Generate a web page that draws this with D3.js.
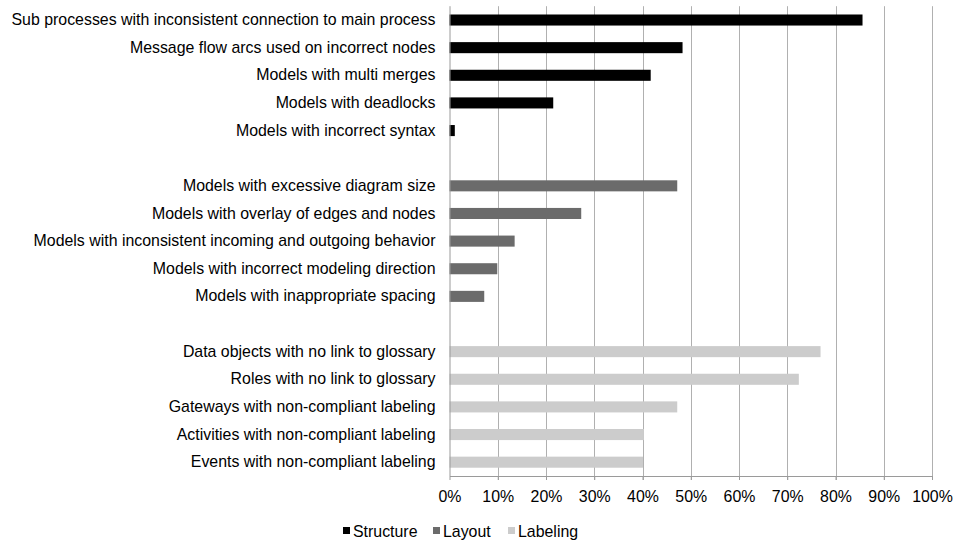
<!DOCTYPE html>
<html>
<head>
<meta charset="utf-8">
<script src="https://cdn.jsdelivr.net/npm/d3@7"></script>
<style>
  html, body { margin: 0; padding: 0; background: #fff; }
  svg { display: block; }
  svg text { font-family: "Liberation Sans", Arial, Helvetica, sans-serif !important; }
</style>
</head>
<body>
<svg id="chart" width="953" height="540"></svg>
<script>
const series = ["Structure", "Layout", "Labeling"];
const seriesColors = ["#000000", "#6b6b6b", "#cccccc"];

const structureCategories = [
  "Sub processes with inconsistent connection to main process",
  "Message flow arcs used on incorrect nodes",
  "Models with multi merges",
  "Models with deadlocks",
  "Models with incorrect syntax"
];
const structureValues = [0.856, 0.483, 0.417, 0.215, 0.011];

const layoutCategories = [
  "Models with excessive diagram size",
  "Models with overlay of edges and nodes",
  "Models with inconsistent incoming and outgoing behavior",
  "Models with incorrect modeling direction",
  "Models with inappropriate spacing"
];
const layoutValues = [0.472, 0.273, 0.135, 0.099, 0.072];

const labelingCategories = [
  "Data objects with no link to glossary",
  "Roles with no link to glossary",
  "Gateways with non-compliant labeling",
  "Activities with non-compliant labeling",
  "Events with non-compliant labeling"
];
const labelingValues = [0.769, 0.724, 0.472, 0.403, 0.401];

const xTicks = [0, 0.1, 0.2, 0.3, 0.4, 0.5, 0.6, 0.7, 0.8, 0.9, 1.0];

(function () {
const FS = 15.9;
// Build rows (with blank spacer rows between groups)
const groups = [
  { cats: structureCategories, vals: structureValues, s: 0 },
  { cats: layoutCategories, vals: layoutValues, s: 1 },
  { cats: labelingCategories, vals: labelingValues, s: 2 }
];
const rows = [];
groups.forEach((g, gi) => {
  g.cats.forEach((c, i) => rows.push({ key: c, label: c, value: g.vals[i], s: g.s }));
  if (gi < groups.length - 1) rows.push({ key: "__gap" + gi, label: "", value: null, s: null });
});

const svg = d3.select("#chart");
const mLeft = 449.5, mRight = 932, mTop = 6.2, mBottom = 476;

const x = d3.scaleLinear().domain([0, 1]).range([mLeft, mRight]);
const y = d3.scaleBand().domain(rows.map(r => r.key)).range([mTop, mBottom])
  .paddingInner(0.6).paddingOuter(0.3);

// gridlines
svg.append("g").selectAll("line").data(xTicks.slice(1)).join("line")
  .attr("x1", d => Math.round(x(d)) + 0.5).attr("x2", d => Math.round(x(d)) + 0.5)
  .attr("y1", mTop).attr("y2", mBottom + 4)
  .attr("stroke", "#b0b0b0").attr("stroke-width", 1);

// bars
svg.append("g").selectAll("rect").data(rows.filter(r => r.value !== null)).join("rect")
  .attr("x", x(0))
  .attr("y", d => y(d.key))
  .attr("width", d => x(d.value) - x(0))
  .attr("height", y.bandwidth())
  .attr("fill", d => seriesColors[d.s]);

// x axis
const xAxis = d3.axisBottom(x).tickValues(xTicks).tickFormat(d3.format(".0%")).tickSize(4).tickSizeOuter(0);
const gx = svg.append("g").attr("transform", `translate(0,${mBottom})`).call(xAxis);
gx.attr("font-family", null).attr("font-size", null);
gx.select(".domain").attr("stroke", "#9a9a9a");
gx.selectAll(".tick line").attr("stroke", "#9a9a9a");
gx.selectAll(".tick text").style("font-size", FS + "px").attr("fill", "#000")
  .attr("y", 15).attr("dy", "0.71em");

// y axis
const yAxis = d3.axisLeft(y).tickFormat(k => rows.find(r => r.key === k).label).tickSize(0).tickPadding(14);
const gy = svg.append("g").attr("transform", `translate(${mLeft},0)`).call(yAxis);
gy.attr("font-family", null).attr("font-size", null);
gy.select(".domain").attr("stroke", "#9a9a9a").attr("d", `M0.5,${mTop}V${mBottom}`);
gy.selectAll(".tick text").style("font-size", FS + "px").attr("fill", "#000");

// legend
const legendX = [343, 433, 508];
const lg = svg.append("g").selectAll("g").data(series).join("g")
  .attr("transform", (d, i) => `translate(${legendX[i]},531)`);
lg.append("rect").attr("x", 0).attr("y", -4).attr("width", 7).attr("height", 7)
  .attr("fill", (d, i) => seriesColors[i]);
lg.append("text").attr("x", 10).attr("y", 0).attr("dy", "0.35em")
  .style("font-size", FS + "px").attr("fill", "#000").text(d => d);
})();
</script>
</body>
</html>
